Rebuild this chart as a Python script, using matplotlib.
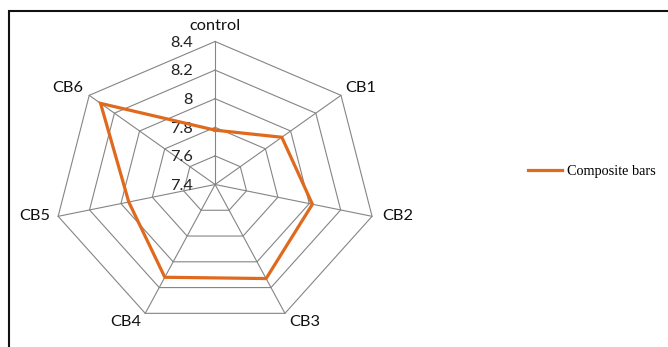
import numpy as np
import matplotlib.pyplot as plt
from matplotlib.patches import Rectangle

categories = ['control', 'CB1', 'CB2', 'CB3', 'CB4', 'CB5', 'CB6']
composite_bars = [7.78, 7.93, 8.02, 8.13, 8.12, 7.95, 8.31]
levels = [7.4, 7.6, 7.8, 8.0, 8.2, 8.4]
level_labels = ['7.4', '7.6', '7.8', '8', '8.2', '8.4']

W, H = 668, 347
fig = plt.figure(figsize=(W / 100, H / 100), dpi=100)
ax = fig.add_axes([0, 0, 1, 1])

# radar drawn on cartesian axes, scaled a bit wider than tall
cx, cy = 215.1, H - 184.5
rx, ry = 161.0, 143.0
ax.set_xlim(-cx / rx, (W - cx) / rx)
ax.set_ylim(-cy / ry, (H - cy) / ry)
ax.axis('off')

base = levels[0]
span = levels[-1] - levels[0]
n = len(categories)
theta = np.arange(n) * 2 * np.pi / n

def to_xy(vals):
    r = (np.asarray(vals) - base) / span
    return r * np.sin(theta), r * np.cos(theta)

grid_col = '#858585'
# polygon rings
for lv in levels[1:]:
    gx, gy = to_xy([lv] * n)
    ax.plot(np.append(gx, gx[0]), np.append(gy, gy[0]), color=grid_col, lw=0.8, zorder=1)
# spokes
ox, oy = to_xy([levels[-1]] * n)
for x, y in zip(ox, oy):
    ax.plot([0, x], [0, y], color=grid_col, lw=0.8, zorder=1)

# value labels along the top spoke
for lv, lab in zip(levels, level_labels):
    ax.annotate(lab, xy=(0, (lv - base) / span), xytext=(-16, -1),
                textcoords='offset points', ha='right', va='center',
                fontsize=11.8, family='Lato', color='#222222')

# category labels
offsets = [((0, 6), 'center', 'bottom'),
           ((3, 0), 'left', 'bottom'),
           ((7, 0), 'left', 'center'),
           ((3, -1), 'left', 'top'),
           ((-3, -1), 'right', 'top'),
           ((-6, 0), 'right', 'center'),
           ((-4, 0), 'right', 'bottom')]
for cat, x, y, (off, ha, va) in zip(categories, ox, oy, offsets):
    ax.annotate(cat, xy=(x, y), xytext=off, textcoords='offset points',
                ha=ha, va=va, fontsize=11.8, family='Lato', color='#111111')

px, py = to_xy(composite_bars)
ax.plot(np.append(px, px[0]), np.append(py, py[0]), color='#DF6A1E', lw=2.3,
        solid_joinstyle='miter', zorder=3, label='Composite bars')

ax.legend(loc='center left', bbox_to_anchor=(528 / W, 1 - 171 / H),
          bbox_transform=fig.transFigure, frameon=False, borderpad=0,
          borderaxespad=0, handlelength=2.4, handletextpad=0.35,
          prop={'family': 'Liberation Serif', 'size': 10.3})

# chart frame, running off the right and bottom edges
fig.add_artist(Rectangle((9 / W, -0.1), 1.2, (H - 10.7) / H + 0.1,
                         transform=fig.transFigure, fill=False,
                         lw=1.5, ec='#111111'))

fig.savefig('out.png', dpi=100)
